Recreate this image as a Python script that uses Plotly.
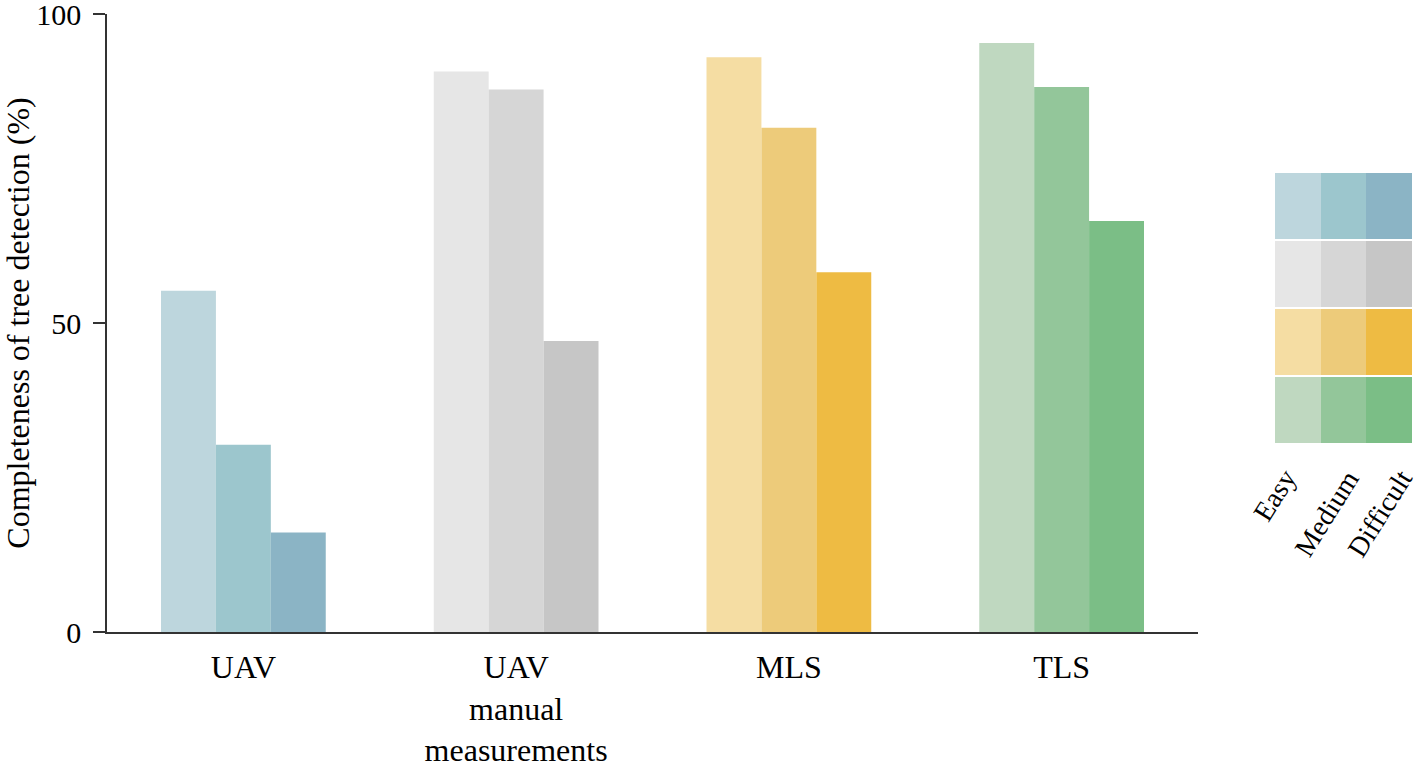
import plotly.graph_objects as go

categories = ["UAV", "UAV<br>manual<br>measurements", "MLS", "TLS"]
difficulty = ["Easy", "Medium", "Difficult"]
easy = [55.2, 90.7, 93.0, 95.3]
medium = [30.3, 87.8, 81.6, 88.2]
difficult = [16.1, 47.1, 58.2, 66.5]

palette = {
    "UAV": ["#BDD6DD", "#9CC6CD", "#8BB4C5"],
    "UAV<br>manual<br>measurements": ["#E6E6E6", "#D6D6D6", "#C6C6C6"],
    "MLS": ["#F5DDA3", "#EDCB7A", "#EEBB43"],
    "TLS": ["#BFD8C0", "#93C69A", "#7BBE86"],
}

FONT = "Liberation Serif, Times New Roman, serif"
fig = go.Figure()

series = [easy, medium, difficult]
for j, (name, vals) in enumerate(zip(difficulty, series)):
    fig.add_trace(go.Bar(
        x=categories, y=vals, name=name,
        marker=dict(color=[palette[c][j] for c in categories], line=dict(width=0)),
        showlegend=False, hoverinfo="x+y",
    ))

# legend swatch grid as a heatmap (rows bottom->top: TLS, MLS, manual, UAV)
row_order = ["TLS", "MLS", "UAV<br>manual<br>measurements", "UAV"]
flat_colors = []
z = []
for r, cat in enumerate(row_order):
    row = []
    for j in range(3):
        row.append(len(flat_colors))
        flat_colors.append(palette[cat][j])
    z.append(row)
n = len(flat_colors)
cscale = []
for i, c in enumerate(flat_colors):
    cscale.append([i / n, c])
    cscale.append([(i + 1) / n, c])
fig.add_trace(go.Heatmap(
    z=z, x=difficulty, y=["r0", "r1", "r2", "r3"],
    colorscale=cscale, zmin=-0.5, zmax=n - 0.5, showscale=False,
    xgap=0, ygap=2, xaxis="x2", yaxis="y2", hoverinfo="skip",
))

# rotated legend labels under the swatch columns
label_xshift = [7, 24, 32]
for lab, dx in zip(difficulty, label_xshift):
    fig.add_annotation(
        x=lab, xref="x2", y=0, yref="y2 domain", text=lab, showarrow=False,
        textangle=-58, xanchor="right", yanchor="top", xshift=dx, yshift=-18,
        font=dict(family=FONT, size=28, color="black"),
    )

fig.update_layout(
    width=1418, height=762,
    margin=dict(l=107, r=6, t=14, b=130, autoexpand=False),
    paper_bgcolor="white", plot_bgcolor="white",
    barmode="group", bargap=0.396, bargroupgap=0,
    font=dict(family=FONT, size=30, color="black"),
    xaxis=dict(
        domain=[0, 1091 / 1305], showline=True, linecolor="#333333", linewidth=1.5,
        ticks="outside", ticklen=6, tickcolor="rgba(0,0,0,0)", automargin=False,
        tickfont=dict(family=FONT, size=32), showgrid=False, zeroline=False,
        ticklabeloverflow="allow",
    ),
    yaxis=dict(
        range=[0, 100], tickvals=[0, 50, 100], showline=True, linecolor="#333333",
        linewidth=1.5, ticks="outside", ticklen=12, tickcolor="#333333", tickwidth=1.5,
        tickfont=dict(family=FONT, size=30), showgrid=False, zeroline=False, automargin=False,
        ticklabelstandoff=6, ticklabeloverflow="allow",
        title=dict(text="Completeness of tree detection (%)", font=dict(family=FONT, size=32), standoff=12),
    ),
    xaxis2=dict(
        domain=[(1275 - 107) / 1305, 1.0], anchor="y2", showline=False, showgrid=False,
        zeroline=False, ticks="", automargin=False, showticklabels=False,
        range=[-0.5, 2.5], autorange=False,
    ),
    yaxis2=dict(
        domain=[(632 - 444) / 618, (632 - 172) / 618], anchor="x2", showticklabels=False,
        showline=False, showgrid=False, zeroline=False, ticks="", automargin=False,
        range=[-0.5, 3.5], autorange=False,
    ),
)

fig.write_html("out.html", config={"displayModeBar": False},
               post_script="document.body.style.margin='0px';")
